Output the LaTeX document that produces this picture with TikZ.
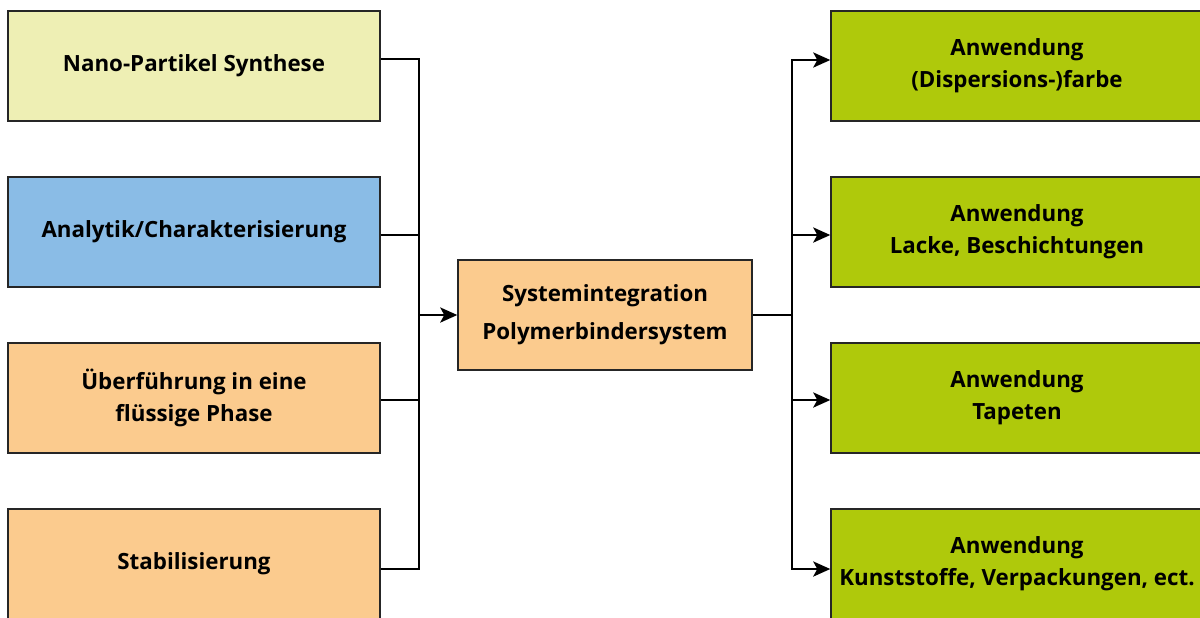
\documentclass[tikz,border=0pt]{standalone}
\usepackage{fontspec}
\setmainfont{Open Sans}
\usepackage{xcolor}
\usetikzlibrary{positioning,arrows.meta}

\definecolor{synthgelb}{HTML}{EEEFB4}
\definecolor{analyseblau}{HTML}{8ABCE6}
\definecolor{prozessorange}{HTML}{FBCB8E}
\definecolor{anwendgruen}{HTML}{AFC90B}

\tikzset{
  box/.style={draw=black!85, line width=0.8pt, minimum width=7.44cm, minimum height=2.2cm,
    align=center, font=\fontsize{12.7}{18.2}\selectfont\bfseries},
  link/.style={draw, line width=1.6pt},
  pfeil/.style={link, -{Stealth[length=3.4mm,width=3mm,inset=0.8mm]}}
}

\begin{document}
\begin{tikzpicture}[node distance=3.32cm,on grid]
		\useasboundingbox (0,0) rectangle (24,-12.34);
		\begin{scope}
		\clip (0,0) rectangle (24,-12.34);
		\node[box, fill=prozessorange, minimum width=5.88cm, font=\fontsize{12.7}{21.5}\selectfont\bfseries] (sys) at (12.1,-6.3) {Systemintegration\\Polymerbindersystem};
		
		\node[box, fill=analyseblau] (ana) [above left=1.66cm and 8.22cm of sys] {Analytik/Charakterisierung};
		\node[box, fill=synthgelb] (nano) [above=of ana] {Nano-Partikel Synthese};
		\node[box, fill=prozessorange] (ueber) [below=of ana] {Überführung in eine\\flüssige Phase};
		\node[box, fill=prozessorange] (stab) [below=of ueber] {Stabilisierung};
		
		\node[box, fill=anwendgruen] (lack) [above right=1.66cm and 8.24cm of sys] {Anwendung\\Lacke, Beschichtungen};
		\node[box, fill=anwendgruen] (farbe) [above=of lack] {Anwendung\\(Dispersions-)farbe};
		\node[box, fill=anwendgruen] (tapete) [below=of lack] {Anwendung\\Tapeten};
		\node[box, fill=anwendgruen] (kunst) [below=of tapete] {Anwendung\\Kunststoffe, Verpackungen, ect.};
		
		\coordinate (lj) at (8.38,-6.3);
		\coordinate (rj) at (15.84,-6.3);
		
		% zusammenfuehren
		\draw[link] ([yshift=1.4mm]nano.east) -| (lj);
		\draw[link] ([yshift=-1mm]stab.east) -| (lj);
		\draw[link] ([yshift=-0.6mm]ana.east) -- ([yshift=-0.6mm]ana.east -| lj);
		\draw[link] ([yshift=-0.4mm]ueber.east) -- ([yshift=-0.4mm]ueber.east -| lj);
		\draw[pfeil] (lj) -- (sys.west);
		
		% verteilen
		\draw[link] (sys.east) -- (rj);
		\draw[pfeil] (rj) |- ([yshift=1.2mm]farbe.west);
		\draw[pfeil] (rj) |- ([yshift=-0.6mm]lack.west);
		\draw[pfeil] (rj) |- ([yshift=-0.4mm]tapete.west);
		\draw[pfeil] (rj) |- ([yshift=-1mm]kunst.west);
		\end{scope}
	\end{tikzpicture}
\end{document}
